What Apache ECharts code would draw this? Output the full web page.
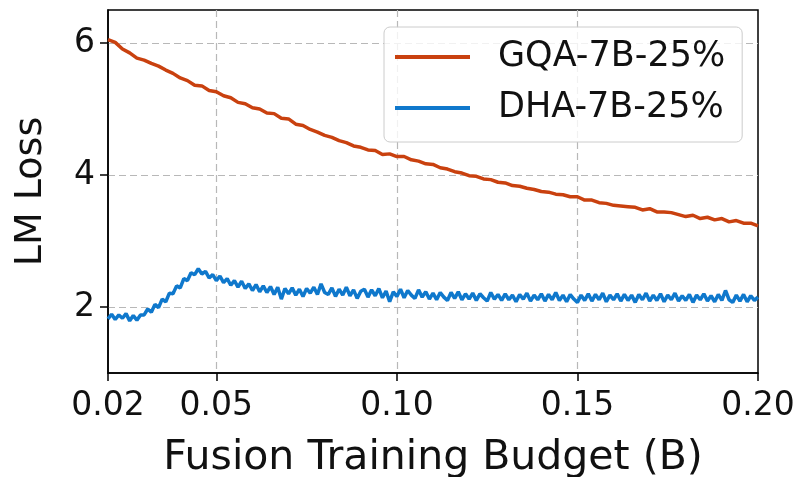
<!DOCTYPE html>
<html>
<head>
<meta charset="utf-8">
<script src="https://cdn.jsdelivr.net/npm/echarts@6/dist/echarts.min.js"></script>
<style>
  html, body { margin: 0; padding: 0; background: #ffffff; }
  #chart { width: 800px; height: 477px; }
</style>
</head>
<body>
<div id="chart"></div>
<script>
// Fusion training budget axis (billions of tokens)
const budgetStart = 0.02;
const gqaStep = 0.002;
const dhaStep = 0.001;
const xTicks = [0.02, 0.05, 0.10, 0.15, 0.20];
const yTicks = [2, 4, 6];
const seriesNames = ['GQA-7B-25%', 'DHA-7B-25%'];

// GQA-7B-25% LM loss, every 0.002B from 0.020B
const gqaLoss = [
  6.05, 6.01, 5.91, 5.85, 5.77, 5.74, 5.69, 5.65, 5.59, 5.54,
  5.47, 5.43, 5.36, 5.35, 5.28, 5.26, 5.20, 5.17, 5.10, 5.08,
  5.02, 5.00, 4.94, 4.93, 4.86, 4.85, 4.77, 4.75, 4.69, 4.65,
  4.60, 4.57, 4.52, 4.49, 4.44, 4.42, 4.38, 4.37, 4.31, 4.32,
  4.28, 4.28, 4.23, 4.21, 4.17, 4.16, 4.11, 4.09, 4.05, 4.03,
  3.99, 3.98, 3.94, 3.93, 3.89, 3.88, 3.84, 3.83, 3.80, 3.78,
  3.75, 3.74, 3.71, 3.70, 3.67, 3.67, 3.62, 3.62, 3.58, 3.57,
  3.54, 3.53, 3.52, 3.51, 3.47, 3.49, 3.44, 3.44, 3.43, 3.40,
  3.37, 3.39, 3.34, 3.36, 3.32, 3.34, 3.29, 3.31, 3.27, 3.27,
  3.23
];

// DHA-7B-25% LM loss, every 0.001B from 0.020B
const dhaLoss = [
  1.82, 1.89, 1.81, 1.88, 1.83, 1.90, 1.79, 1.87, 1.80, 1.88,
  1.88, 1.97, 1.92, 2.04, 1.99, 2.12, 2.08, 2.21, 2.20, 2.32,
  2.29, 2.43, 2.40, 2.52, 2.49, 2.58, 2.50, 2.54, 2.44, 2.49,
  2.40, 2.47, 2.37, 2.43, 2.33, 2.40, 2.30, 2.39, 2.28, 2.35,
  2.25, 2.34, 2.23, 2.32, 2.22, 2.31, 2.19, 2.30, 2.12, 2.28,
  2.20, 2.29, 2.18, 2.27, 2.16, 2.28, 2.21, 2.30, 2.19, 2.35,
  2.22, 2.19, 2.29, 2.16, 2.27, 2.18, 2.30, 2.17, 2.26, 2.13,
  2.24, 2.27, 2.15, 2.26, 2.17, 2.28, 2.14, 2.24, 2.08, 2.23,
  2.16, 2.27, 2.14, 2.25, 2.18, 2.13, 2.26, 2.15, 2.23, 2.12,
  2.21, 2.11, 2.22, 2.15, 2.10, 2.22, 2.13, 2.23, 2.11, 2.20,
  2.12, 2.21, 2.10, 2.20, 2.14, 2.09, 2.22, 2.12, 2.19, 2.10,
  2.20, 2.11, 2.18, 2.08, 2.19, 2.12, 2.21, 2.09, 2.18, 2.11,
  2.20, 2.09, 2.19, 2.11, 2.22, 2.10, 2.18, 2.08, 2.19, 2.12,
  2.07, 2.18, 2.10, 2.20, 2.09, 2.19, 2.11, 2.21, 2.08, 2.18,
  2.11, 2.20, 2.09, 2.19, 2.10, 2.18, 2.07, 2.19, 2.11, 2.21,
  2.09, 2.18, 2.10, 2.20, 2.08, 2.18, 2.11, 2.21, 2.09, 2.17,
  2.10, 2.19, 2.07, 2.18, 2.11, 2.20, 2.09, 2.17, 2.08, 2.19,
  2.10, 2.25, 2.11, 2.07, 2.18, 2.09, 2.19, 2.08, 2.17, 2.10,
  2.15
];

function toPairs(values, step) {
  return values.map((v, i) => [+(budgetStart + i * step).toFixed(4), v]);
}

const FONT = 'DejaVu Sans';
const gridLine = { color: '#b8b8b8', width: 1.2, type: [7, 4] };
const GQA_COLOR = '#c9410f';
const DHA_COLOR = '#0f78cc';

const chart = echarts.init(document.getElementById('chart'), null, { renderer: 'canvas' });
chart.setOption({
  animation: false,
  backgroundColor: '#ffffff',
  grid: {
    left: 108, right: 42, top: 10, bottom: 104,
    outerBoundsMode: 'none',
    show: true, borderColor: '#000000', borderWidth: 1.5, backgroundColor: 'transparent'
  },
  legend: {
    orient: 'vertical',
    left: 384, top: 27,
    padding: [10, 17, 14, 11],
    icon: 'rect',
    itemWidth: 75, itemHeight: 4, itemGap: 11,
    backgroundColor: 'rgba(255,255,255,0.8)',
    borderColor: '#cccccc', borderWidth: 1, borderRadius: 6,
    data: seriesNames,
    textStyle: { fontFamily: FONT, fontSize: 35, color: '#111111', lineHeight: 40, padding: [0, 0, 0, 23] }
  },
  xAxis: {
    type: 'value',
    min: xTicks[0], max: xTicks[xTicks.length - 1],
    name: 'Fusion Training Budget (B)',
    nameLocation: 'middle', nameGap: 65,
    nameTextStyle: { fontFamily: FONT, fontSize: 41, color: '#111111' },
    axisLine: { show: true, onZero: false, lineStyle: { color: '#000000', width: 1.5 } },
    axisTick: { show: true, inside: false, length: 8, customValues: xTicks, lineStyle: { color: '#000000', width: 1.5 } },
    axisLabel: {
      customValues: xTicks, margin: 17,
      fontFamily: FONT, fontSize: 33, color: '#111111',
      formatter: v => v.toFixed(2)
    },
    // the first and last ticks sit on the frame, so their grid lines are dropped
    splitLine: { show: true, showMinLine: false, showMaxLine: false, lineStyle: gridLine }
  },
  yAxis: {
    type: 'value',
    min: 1, max: 6.5,
    name: 'LM Loss',
    nameLocation: 'middle', nameGap: 58,
    nameTextStyle: { fontFamily: FONT, fontSize: 38, color: '#111111' },
    axisLine: { show: true, onZero: false, lineStyle: { color: '#000000', width: 1.5 } },
    axisTick: { show: true, inside: false, length: 8, customValues: yTicks, lineStyle: { color: '#000000', width: 1.5 } },
    axisLabel: {
      customValues: yTicks, margin: 13,
      fontFamily: FONT, fontSize: 33, color: '#111111',
      formatter: v => String(v)
    },
    splitLine: { show: true, showMinLine: true, showMaxLine: true, lineStyle: gridLine }
  },
  series: [
    {
      name: seriesNames[0], type: 'line', data: toPairs(gqaLoss, gqaStep),
      symbol: 'none', smooth: false,
      lineStyle: { color: GQA_COLOR, width: 3.5 }, itemStyle: { color: GQA_COLOR }
    },
    {
      name: seriesNames[1], type: 'line', data: toPairs(dhaLoss, dhaStep),
      symbol: 'none', smooth: false,
      lineStyle: { color: DHA_COLOR, width: 3.5 }, itemStyle: { color: DHA_COLOR }
    }
  ]
});
</script>
</body>
</html>
